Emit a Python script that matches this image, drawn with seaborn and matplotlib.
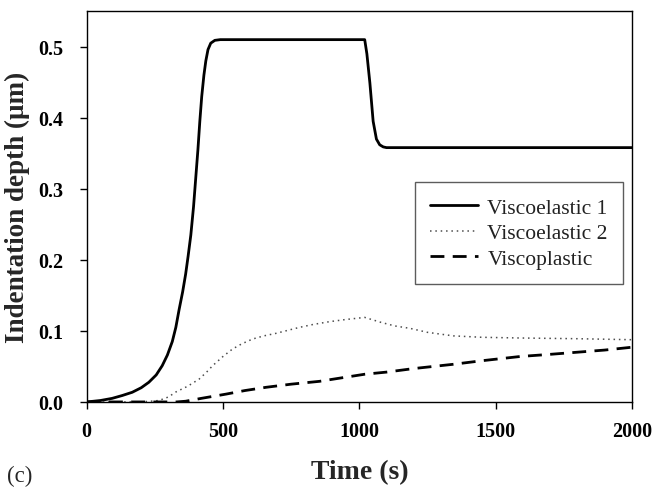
import numpy as np
import matplotlib
matplotlib.use("Agg")
import matplotlib.pyplot as plt
import pandas as pd
import seaborn as sns

# values
t_ve1 = [0, 50, 93, 130, 167, 200, 228, 255, 277, 296, 314, 327, 339, 352, 363, 372, 382,
         392, 400, 408, 415, 422, 430, 437, 445, 455, 470, 490, 1020, 1028, 1039, 1051,
         1063, 1075, 1088, 1100, 2000]
d_ve1 = [0, 0.002, 0.005, 0.009, 0.0136, 0.02, 0.0277, 0.038, 0.051, 0.066, 0.085, 0.105,
         0.13, 0.155, 0.18, 0.205, 0.235, 0.275, 0.315, 0.355, 0.395, 0.43, 0.46, 0.48,
         0.496, 0.505, 0.509, 0.51, 0.51, 0.49, 0.449, 0.395, 0.37, 0.362, 0.359, 0.358,
         0.358]

t_ve2 = [0, 200, 265, 300, 327, 370, 412, 440, 462, 500, 535, 570, 609, 650, 695, 740, 781,
         830, 891, 950, 1020, 1080, 1130, 1186, 1250, 1345, 1450, 1591, 1800, 2000]
d_ve2 = [0, 0, 0.002, 0.007, 0.014, 0.022, 0.032, 0.042, 0.051, 0.064, 0.0745, 0.082, 0.0886,
         0.093, 0.0966, 0.101, 0.105, 0.109, 0.113, 0.116, 0.119, 0.112, 0.107, 0.1036,
         0.098, 0.093, 0.091, 0.090, 0.089, 0.0876]

t_vp = [0, 330, 363, 420, 511, 580, 658, 750, 854, 920, 1020, 1100, 1200, 1345, 1450,
        1591, 1700, 1800, 1900, 2000]
d_vp = [0, 0, 0.001, 0.005, 0.011, 0.016, 0.0206, 0.025, 0.029, 0.033, 0.039, 0.042,
        0.047, 0.053, 0.058, 0.064, 0.067, 0.070, 0.073, 0.077]

labels = ["Viscoelastic 1", "Viscoelastic 2", "Viscoplastic"]
x_ticks = [0, 500, 1000, 1500, 2000]
y_ticks = [0.0, 0.1, 0.2, 0.3, 0.4, 0.5]

sns.set_style("ticks")
plt.rcParams['font.family'] = ['Liberation Serif', 'DejaVu Serif']

fig = plt.figure(figsize=(6.52, 4.89), dpi=100)
ax = fig.add_axes([0.133, 0.176, 0.836, 0.799])

sns.lineplot(x=t_ve1, y=d_ve1, ax=ax, color="black", lw=2.0, label=labels[0])
sns.lineplot(x=t_ve2, y=d_ve2, ax=ax, color="#4d4d4d", lw=1.1, label=labels[1])
sns.lineplot(x=t_vp, y=d_vp, ax=ax, color="black", lw=2.0, label=labels[2])
ax.lines[1].set_linestyle((0, (1, 2.5)))
ax.lines[2].set_linestyle((0, (5, 3)))

ax.set_xlim(0, 2000)
ax.set_ylim(0, 0.55)
ax.set_xticks(x_ticks)
ax.set_yticks(y_ticks)
ax.set_yticklabels([f"{v:.1f}" for v in y_ticks])
for lab in ax.get_xticklabels() + ax.get_yticklabels():
    lab.set_fontweight("bold")
    lab.set_fontsize(14.5)
ax.tick_params(axis="both", direction="out", length=5, width=1, colors="black")
ax.tick_params(axis="y", pad=12)
ax.tick_params(axis="x", pad=9)
for s in ax.spines.values():
    s.set_visible(True)
    s.set_color("black")
    s.set_linewidth(1.0)

ax.set_xlabel("")
ax.set_ylabel("")
fig.text(360 / 652, 1 - 473 / 489, "Time (s)", fontsize=20, fontweight="bold",
         ha="center", va="center")
fig.text(17 / 652, 1 - 207 / 489, "Indentation depth (μm)", fontsize=19.5,
         fontweight="bold", rotation=90, ha="center", va="center")
fig.text(20 / 652, 1 - 476 / 489, "(c)", fontsize=16.5, ha="center", va="center")

leg = ax.legend(loc="upper left", bbox_to_anchor=(0.602, 0.563), borderaxespad=0,
                fontsize=15.5, frameon=True, fancybox=False, handlelength=2.2,
                handletextpad=0.45, borderpad=0.72, labelspacing=0.26)
leg.get_frame().set_edgecolor("#333333")
leg.get_frame().set_linewidth(1.0)
for txt in leg.get_texts():
    txt.set_color("#222222")

fig.savefig("out.png", dpi=100)
